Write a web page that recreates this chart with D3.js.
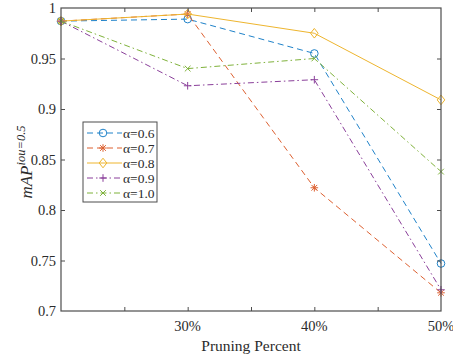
<!DOCTYPE html>
<html>
<head>
<meta charset="utf-8">
<script src="https://cdn.jsdelivr.net/npm/d3@7"></script>
<style>
  body { margin: 0; background: #fff; }
  svg { font-family: "Liberation Serif", "Times New Roman", serif; }
</style>
</head>
<body>
<div id="chart"></div>
<script>
const prune = [20, 30, 40, 50];
const xTickLabels = ["30%", "40%", "50%"];
const alphas = ["0.6", "0.7", "0.8", "0.9", "1.0"];
const a06 = [0.987, 0.989, 0.955, 0.747];
const a07 = [0.987, 0.994, 0.822, 0.718];
const a08 = [0.987, 0.994, 0.975, 0.909];
const a09 = [0.987, 0.923, 0.929, 0.721];
const a10 = [0.987, 0.940, 0.950, 0.838];
const yTicks = [0.7, 0.75, 0.8, 0.85, 0.9, 0.95, 1];

const series = [
  { name: alphas[0], values: a06, color: "#1f82c9", dash: "6,4", marker: "circle" },
  { name: alphas[1], values: a07, color: "#dd6030", dash: "6,4", marker: "star" },
  { name: alphas[2], values: a08, color: "#eeb52e", dash: null, marker: "diamond" },
  { name: alphas[3], values: a09, color: "#8a3f9a", dash: "6,3,1.5,3", marker: "plus" },
  { name: alphas[4], values: a10, color: "#7fb23b", dash: "6,3,1.5,3", marker: "cross" }
];

const width = 453, height = 357;
const marginTop = 8, marginRight = 12, marginBottom = 46, marginLeft = 61;

const x = d3.scaleLinear().domain([20, 50]).range([marginLeft, width - marginRight]);
const y = d3.scaleLinear().domain([0.7, 1]).range([height - marginBottom, marginTop]);

const svg = d3.select("#chart").append("svg")
  .attr("width", width).attr("height", height);

const axisColor = "#4d4d4d";
const textColor = "#2b2b2b";

// ticks: bottom/top every 5%, left/right every 0.05
const xt = [25, 30, 35, 40, 45];
const plot = svg.append("g");

const axBottom = svg.append("g")
  .attr("transform", `translate(0,${height - marginBottom})`)
  .call(d3.axisBottom(x).tickValues(xt).tickSize(-4).tickFormat(() => ""));
const axTop = svg.append("g")
  .attr("transform", `translate(0,${marginTop})`)
  .call(d3.axisTop(x).tickValues(xt).tickSize(-4).tickFormat(() => ""));
const axLeft = svg.append("g")
  .attr("transform", `translate(${marginLeft},0)`)
  .call(d3.axisLeft(y).tickValues(yTicks.slice(1, -1)).tickSize(-4).tickFormat(() => ""));
const axRight = svg.append("g")
  .attr("transform", `translate(${width - marginRight},0)`)
  .call(d3.axisRight(y).tickValues(yTicks.slice(1, -1)).tickSize(-4).tickFormat(() => ""));

[axBottom, axTop, axLeft, axRight].forEach(g => {
  g.select(".domain").remove();
  g.selectAll("line").attr("stroke", axisColor);
});

svg.append("rect")
  .attr("x", marginLeft).attr("y", marginTop)
  .attr("width", width - marginLeft - marginRight)
  .attr("height", height - marginTop - marginBottom)
  .attr("fill", "none").attr("stroke", axisColor).attr("stroke-width", 1.2);

// tick labels
svg.append("g").selectAll("text").data([30, 40, 50]).join("text")
  .attr("x", d => x(d)).attr("y", height - marginBottom + 20)
  .attr("text-anchor", "middle").attr("font-size", 14.5).attr("fill", textColor)
  .text((d, i) => xTickLabels[i]);

svg.append("g").selectAll("text").data(yTicks).join("text")
  .attr("x", marginLeft - 5).attr("y", d => y(d) + 5)
  .attr("text-anchor", "end").attr("font-size", 14.5).attr("fill", textColor)
  .text(d => d3.format("~g")(d));

svg.append("text")
  .attr("x", 251).attr("y", height - 6)
  .attr("text-anchor", "middle").attr("font-size", 15.5).attr("fill", textColor)
  .text("Pruning Percent");

const yl = svg.append("text")
  .attr("transform", `translate(32,162) rotate(-90)`)
  .attr("text-anchor", "middle").attr("font-size", 17).attr("fill", textColor)
  .attr("font-style", "italic");
yl.append("tspan").text("mAP");
yl.append("tspan").attr("dy", -7).attr("font-size", 12.5).text("iou=0.5");

function drawMarker(g, type, color) {
  const s = 3.8;
  if (type === "circle") {
    g.append("circle").attr("r", s).attr("fill", "none").attr("stroke", color);
  } else if (type === "diamond") {
    g.append("path").attr("d", `M0,${-s - 1}L${s},0L0,${s + 1}L${-s},0Z`)
      .attr("fill", "none").attr("stroke", color);
  } else if (type === "plus") {
    g.append("path").attr("d", `M${-s},0H${s}M0,${-s}V${s}`).attr("stroke", color);
  } else if (type === "cross") {
    const c = s * 0.75;
    g.append("path").attr("d", `M${-c},${-c}L${c},${c}M${-c},${c}L${c},${-c}`).attr("stroke", color);
  } else if (type === "star") {
    const c = s * 0.75;
    g.append("path").attr("d", `M${-s},0H${s}M0,${-s}V${s}M${-c},${-c}L${c},${c}M${-c},${c}L${c},${-c}`)
      .attr("stroke", color);
  }
}

const line = d3.line().x((d, i) => x(prune[i])).y(d => y(d));

series.forEach(s => {
  plot.append("path")
    .attr("d", line(s.values))
    .attr("fill", "none").attr("stroke", s.color).attr("stroke-width", 1)
    .attr("stroke-dasharray", s.dash);
  s.values.forEach((v, i) => {
    const g = plot.append("g").attr("transform", `translate(${x(prune[i])},${y(v)})`)
      .attr("stroke-width", 1);
    drawMarker(g, s.marker, s.color);
  });
});

// legend
const lg = svg.append("g").attr("transform", "translate(83,122)");
lg.append("rect").attr("width", 74).attr("height", 80)
  .attr("fill", "#fff").attr("stroke", axisColor).attr("stroke-width", 1);
series.forEach((s, i) => {
  const yy = 11 + i * 15;
  lg.append("line").attr("x1", 4).attr("x2", 39).attr("y1", yy).attr("y2", yy)
    .attr("stroke", s.color).attr("stroke-width", 1).attr("stroke-dasharray", s.dash);
  const mg = lg.append("g").attr("transform", `translate(20,${yy})`);
  drawMarker(mg, s.marker, s.color);
  const t = lg.append("text").attr("x", 40).attr("y", yy + 4.5)
    .attr("font-size", 13.5).attr("fill", textColor);
  t.append("tspan").text("\u03b1");
  t.append("tspan").text("=" + s.name);
});
</script>
</body>
</html>
